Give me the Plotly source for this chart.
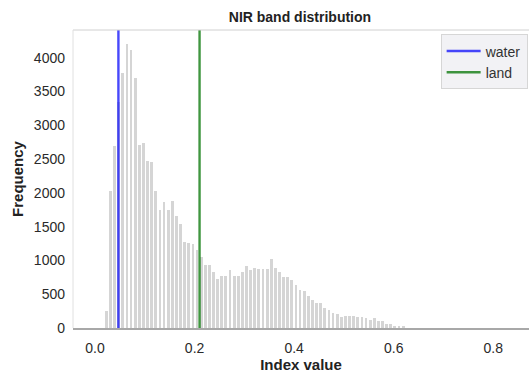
import plotly.graph_objects as go

# Histogram of NIR index values (pre-binned counts)
bin_start = 0.0186      # left edge of the first populated bin
bin_width = 0.00828     # width of every bin
counts = [
    250, 2030, 2700, 3350, 3770, 4200, 4120, 3695, 2715, 2740,
    2475, 2450, 2030, 1745, 1870, 1745, 1885, 1660, 1535, 1280,
    1255, 1245, 1160, 1050, 935, 935, 835, 725, 770, 770,
    855, 770, 770, 835, 915, 855, 895, 870, 870, 870,
    1015, 895, 835, 750, 750, 710, 640, 565, 545, 480,
    415, 366, 366, 302, 262, 222, 202, 162, 182, 182,
    182, 162, 162, 142, 122, 142, 102, 102, 62, 62,
    37, 37, 37,
]

# Threshold markers
water_value = 0.047
land_value = 0.210

y_ticks = [0, 500, 1000, 1500, 2000, 2500, 3000, 3500, 4000]
x_ticks = [0.0, 0.2, 0.4, 0.6, 0.8]
x_tick_labels = ["0.0", "0.2", "0.4", "0.6", "0.8"]

centers = [bin_start + bin_width * (i + 0.5) for i in range(len(counts))]
y_top = max(counts) * 1.05

font_family = "Liberation Sans, Arial, sans-serif"

fig = go.Figure()
fig.add_trace(go.Bar(
    x=centers, y=counts, width=bin_width * 0.68,
    marker=dict(color="#d5d5d5", line=dict(width=0)),
    showlegend=False, hoverinfo="skip",
))
fig.add_trace(go.Scatter(
    x=[water_value, water_value], y=[0, y_top], mode="lines",
    line=dict(color="rgba(20,20,250,0.78)", width=2.4), name="water",
))
fig.add_trace(go.Scatter(
    x=[land_value, land_value], y=[0, y_top], mode="lines",
    line=dict(color="rgba(10,120,10,0.78)", width=2.4), name="land",
))

# Top and left frame lines
fig.add_shape(type="line", xref="paper", yref="paper", x0=0, x1=1, y0=1, y1=1,
              line=dict(color="#d0d0d0", width=1))
fig.add_shape(type="line", xref="paper", yref="paper", x0=0, x1=0, y0=0, y1=1,
              line=dict(color="#e0e0e0", width=1))

fig.update_layout(
    width=529, height=374,
    margin=dict(l=73, r=0, t=30, b=46),
    paper_bgcolor="white", plot_bgcolor="white",
    bargap=0,
    font=dict(family=font_family, size=14, color="#2a2a2a"),
    title=dict(text="<b>NIR band distribution</b>", x=0.567, xanchor="center",
               y=1 - 17 / 374, yanchor="middle",
               font=dict(size=14, color="#222222")),
    legend=dict(
        x=0.997, xanchor="right", y=0.985, yanchor="top",
        bgcolor="#f2f2f5", bordercolor="#d6d6d6", borderwidth=1,
        font=dict(size=14, color="#333333"),
        itemwidth=34, tracegroupgap=2,
    ),
    xaxis=dict(
        range=[-0.0442, 0.8717], tickvals=x_ticks, ticktext=x_tick_labels,
        showgrid=False, zeroline=False, showline=True,
        linecolor="#a8a8a8", linewidth=2, ticks="",
        ticklabelstandoff=6,
        tickfont=dict(size=14, color="#2a2a2a"),
        title=dict(text="<b>Index value</b>", standoff=2,
                   font=dict(size=15, color="#222222")),
    ),
    yaxis=dict(
        range=[0, y_top], tickvals=y_ticks,
        showgrid=False, zeroline=False, showline=False, ticks="",
        ticklabelstandoff=7,
        tickfont=dict(size=14, color="#2a2a2a"),
        title=dict(text="<b>Frequency</b>", standoff=6,
                   font=dict(size=15, color="#222222")),
    ),
)

fig.write_html("out.html")
